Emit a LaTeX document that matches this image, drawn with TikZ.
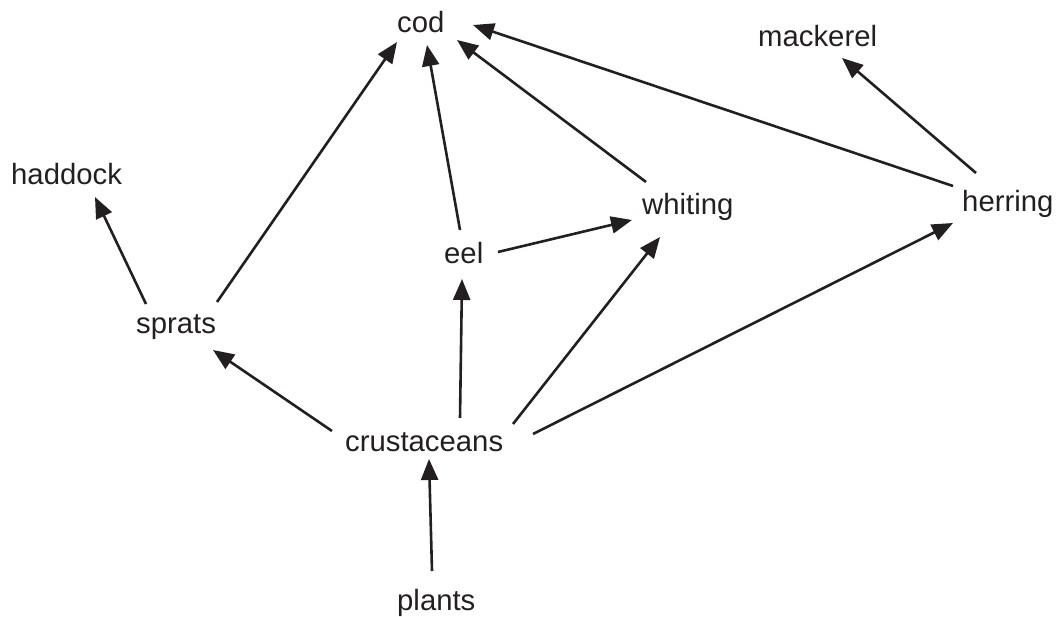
\documentclass[tikz,border=0pt]{standalone}
\usepackage{fontspec}
\setmainfont{Liberation Sans}
\usetikzlibrary{arrows.meta}
\definecolor{ink}{HTML}{231F20}
\begin{document}
\begin{tikzpicture}[x=1pt,y=-1pt,
  lbl/.style={anchor=base west,inner sep=0pt,text=ink,font=\fontsize{29.3}{34}\selectfont},
  arr/.style={draw=ink,line width=2.6pt,-{Triangle[length=21pt,width=17pt]}}]
\useasboundingbox (0,0) rectangle (1059,617);
\node[lbl] (cod) at (397,33) {cod};
\node[lbl] (mack) at (758,47) {mackerel};
\node[lbl] (had) at (11,185) {haddock};
\node[lbl] (wh) at (642,215) {whiting};
\node[lbl] (her) at (962,212) {herring};
\node[lbl] (eel) at (444,264) {eel};
\node[lbl] (spr) at (136,334) {sprats};
\node[lbl] (cr) at (345,451) {crustaceans};
\node[lbl] (pl) at (397,610) {plants};
% arrows
\draw[arr] ([shift={(35,-39)}]pl.base west) -- ([shift={(84,8)}]cr.base west);
\draw[arr] ([shift={(-13,-20)}]cr.base west) -- ([shift={(77,16)}]spr.base west);
\draw[arr] ([shift={(115,-33)}]cr.base west) -- ([shift={(18,15)}]eel.base west);
\draw[arr] ([shift={(168,-27)}]cr.base west) -- ([shift={(18,22)}]wh.base west);
\draw[arr] ([shift={(188,-17)}]cr.base west) -- ([shift={(-9,11)}]her.base west);
\draw[arr] ([shift={(10,-30)}]spr.base west) -- ([shift={(84,12)}]had.base west);
\draw[arr] ([shift={(81,-32)}]spr.base west) -- ([shift={(0,9)}]cod.base west);
\draw[arr] ([shift={(16,-34)}]eel.base west) -- ([shift={(30,12)}]cod.base west);
\draw[arr] ([shift={(54,-12)}]eel.base west) -- ([shift={(-10,5)}]wh.base west);
\draw[arr] ([shift={(4,-33)}]wh.base west) -- ([shift={(60,7)}]cod.base west);
\draw[arr] ([shift={(-9,-26)}]her.base west) -- ([shift={(76,-8)}]cod.base west);
\draw[arr] ([shift={(14,-39)}]her.base west) -- ([shift={(84,11)}]mack.base west);
\end{tikzpicture}
\end{document}
